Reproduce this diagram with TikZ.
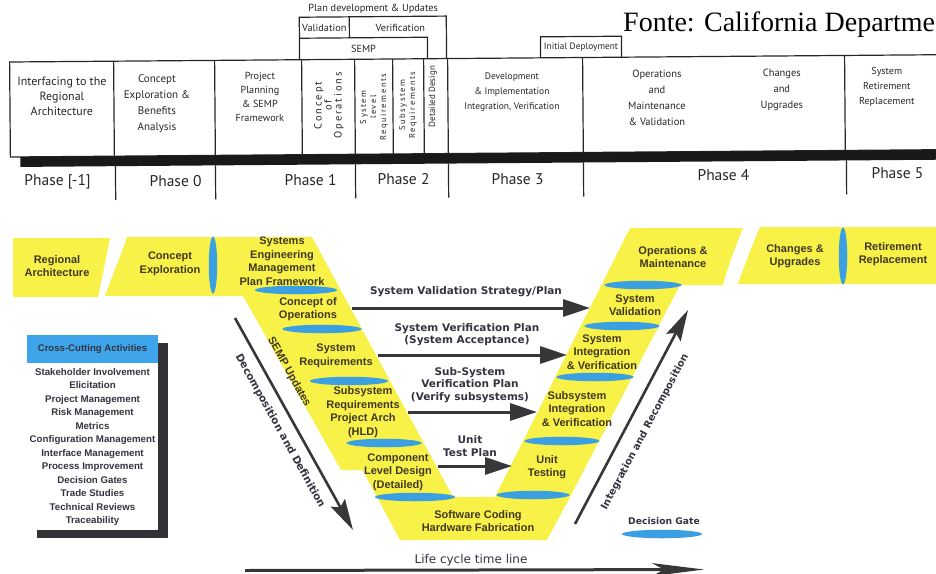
\documentclass[tikz,border=0pt]{standalone}
\usepackage{fontspec}
\setmainfont{Liberation Serif}
\newfontfamily\hdrfont{PT Sans}
\newfontfamily\hdrspaced[LetterSpace=18]{PT Sans}
\newfontfamily\vfont{Liberation Sans}
\newfontfamily\lblfont{DejaVu Sans}
\usetikzlibrary{arrows.meta,shapes.geometric}

\definecolor{vyellow}{RGB}{247,241,72}
\definecolor{gateblue}{RGB}{58,160,226}
\definecolor{boxtxt}{RGB}{66,56,32}
\definecolor{lbltxt}{RGB}{52,52,64}
\definecolor{arrowgray}{RGB}{55,55,58}
\definecolor{hdrgray}{RGB}{38,38,38}
\definecolor{legendblue}{RGB}{62,165,235}
\definecolor{shadowgray}{RGB}{50,50,55}

\begin{document}
\begin{tikzpicture}[x=1pt,y=-1pt,
  hdrline/.style={draw=hdrgray,line width=1.2pt},
  hdrtxt/.style={align=center,inner sep=0pt,text=hdrgray},
  phaselbl/.style={inner sep=0pt,text=hdrgray,font=\hdrfont\fontsize{15.5}{18}\selectfont},
  vtxt/.style={align=center,inner sep=0pt,text=boxtxt,font=\vfont\bfseries\fontsize{11}{13.5}\selectfont},
  lbl/.style={align=center,inner sep=0pt,text=lbltxt,font=\lblfont\bfseries\fontsize{10.5}{12.5}\selectfont},
  gateh/.style={ellipse,fill=gateblue,inner sep=0pt,minimum height=8.5pt,minimum width=#1},
  gatev/.style={ellipse,fill=gateblue,inner sep=0pt,minimum width=8.5pt,minimum height=#1},
  planarrow/.style={draw=arrowgray,line width=3pt,-{Triangle[length=27pt,width=17pt]}},
  diagarrow/.style={draw=arrowgray,line width=2.6pt,-{Stealth[length=31pt,width=16pt,inset=5pt]}},
  timearrow/.style={draw=arrowgray,line width=3pt,-{Stealth[length=52pt,width=13pt,inset=12pt]}}
]
\useasboundingbox (0,0) rectangle (936,573);
\clip (0,0) rectangle (936,573);

% ---------------- source note ----------------
\node[anchor=base west,inner sep=0pt,font=\fontsize{28}{32}\selectfont] (fonte) at (623,31) {Fonte: California Departme};

% ---------------- phase table ----------------
\begin{scope}[rotate around={0.45:(10,110)}]
  \draw[hdrline] (10,62) rectangle (950,157);
  \fill[black!90] (20,157) rectangle (950,167);
  \foreach \x in {114,215,302,355,393,424,448,583,845}
    \draw[hdrline] (\x,62) -- (\x,157);
  \foreach \x in {115,215,355,448,583,846}
    \draw[hdrline] (\x,167) -- (\x,201);
  % plan development boxes
  \draw[hdrline] (300,62) -- (300,19.5) -- (447,19.5) -- (447,62);
  \draw[hdrline] (350,19.5) -- (350,40.5);
  \draw[hdrline] (300,40.5) -- (428,40.5) -- (428,62);
  \draw[hdrline] (541,62) -- (541,41) -- (622,41) -- (622,62);

  \node[hdrtxt,font=\hdrfont\fontsize{10.3}{12}\selectfont] (hplan) at (374,12) {Plan development \& Updates};
  \node[hdrtxt,font=\hdrfont\fontsize{10.3}{12}\selectfont] (hval) at (325,30.5) {Validation};
  \node[hdrtxt,font=\hdrfont\fontsize{10.3}{12}\selectfont] (hver) at (401,30.5) {Verification};
  \node[hdrtxt,font=\hdrfont\fontsize{10.3}{12}\selectfont] (hsemp) at (364,51.5) {SEMP};
  \node[hdrtxt,font=\hdrfont\fontsize{9.3}{11}\selectfont] (hinit) at (581.5,51.5) {Initial Deployment};

  \node[hdrtxt,font=\hdrfont\fontsize{12}{15}\selectfont] (hreg) at (62,97) {Interfacing to the\\Regional\\Architecture};
  \node[hdrtxt,font=\hdrfont\fontsize{11}{16}\selectfont] (hcon) at (157,105) {Concept\\Exploration \&\\Benefits\\Analysis};
  \node[hdrtxt,font=\hdrfont\fontsize{10.2}{14}\selectfont] (hproj) at (260,99) {Project\\Planning\\\& SEMP\\Framework};
  \node[hdrtxt,rotate=90,font=\hdrspaced\fontsize{10.5}{10}\selectfont] (hconops) at (329,108) {Concept\\of\\Operations};
  \node[hdrtxt,rotate=90,font=\hdrspaced\fontsize{8.5}{10}\selectfont] (hsyslev) at (374,110) {System\\level\\Requirements};
  \node[hdrtxt,rotate=90,font=\hdrspaced\fontsize{8.5}{10}\selectfont] (hsubreq) at (408,108) {Subsystem\\Requirements};
  \node[hdrtxt,rotate=90,font=\hdrfont\fontsize{9}{10}\selectfont] (hdet) at (433,100) {Detailed Design};
  \node[hdrtxt,font=\hdrfont\fontsize{9.5}{15}\selectfont] (hdev) at (512,96) {Development\\\& Implementation\\Integration, Verification};
  \node[hdrtxt,font=\hdrfont\fontsize{10.5}{16}\selectfont] (hops) at (657,103) {Operations\\and\\Maintenance\\\& Validation};
  \node[hdrtxt,font=\hdrfont\fontsize{10.5}{16}\selectfont] (hchg) at (782,96) {Changes\\and\\Upgrades};
  \node[hdrtxt,font=\hdrfont\fontsize{10}{15}\selectfont] (hret) at (887,94) {System\\Retirement\\Replacement};

  \node[phaselbl] (p0) at (57,182) {Phase [-1]};
  \node[phaselbl] (p1) at (175,182) {Phase 0};
  \node[phaselbl] (p2) at (310,182) {Phase 1};
  \node[phaselbl] (p3) at (403,182) {Phase 2};
  \node[phaselbl] (p4) at (517,183) {Phase 3};
  \node[phaselbl] (p5) at (723,181) {Phase 4};
  \node[phaselbl] (p6) at (897,180) {Phase 5};
\end{scope}

% ---------------- V model band ----------------
\fill[vyellow] (13,238) -- (110,238) .. controls (106,258) and (102,278) .. (98,297) -- (13,297) -- cycle;
\fill[vyellow] (127,237) -- (312,237) -- (453,497) -- (495,497) -- (630,228) -- (743,228)
  .. controls (736,245) and (728,266) .. (723,285) -- (680,285) -- (570,497) -- (547,540)
  -- (400,540) -- (377,497) -- (362.5,470) -- (341,470) -- (243,296) -- (105,296)
  .. controls (112,276) and (120,258) .. (127,237) -- cycle;
\fill[vyellow] (760,227) .. controls (752,246) and (744,266) .. (738,284) -- (950,284) -- (950,227) -- cycle;

% decision gates
\node[gatev=57pt] (gv1) at (213,265) {};
\node[gatev=57pt] (gv2) at (843,256) {};
\node[gateh=82pt] (g1) at (296,290) {};
\node[gateh=79pt] (g2) at (322,329) {};
\node[gateh=78pt] (g3) at (349,381) {};
\node[gateh=75pt] (g4) at (384,443) {};
\node[gateh=80pt] (g5) at (415,497) {};
\node[gateh=73pt] (g6) at (533,495) {};
\node[gateh=75pt] (g7) at (562,441) {};
\node[gateh=77pt] (g8) at (595,377) {};
\node[gateh=75pt] (g9) at (622,326) {};
\node[gateh=77pt] (g10) at (643,285) {};

% stage texts
\node[vtxt] (tRegional) at (57,266) {Regional\\Architecture};
\node[vtxt] (tConcept) at (170,264) {Concept\\Exploration};
\node[vtxt] (tSEMP) at (282,261) {Systems\\Engineering\\Management\\Plan Framework};
\node[vtxt] (tConOps) at (308,309) {Concept of\\Operations};
\node[vtxt] (tSysReq) at (336,356) {System\\Requirements};
\node[vtxt] (tSubReq) at (363,412) {Subsystem\\Requirements\\Project Arch\\(HLD)};
\node[vtxt] (tComp) at (398,472) {Component\\Level Design\\(Detailed)};
\node[vtxt] (tCode) at (478,521) {Software Coding\\Hardware Fabrication};
\node[vtxt] (tUnit) at (547,467) {Unit\\Testing};
\node[vtxt] (tSubInt) at (577,409) {Subsystem\\Integration\\\& Verification};
\node[vtxt] (tSysInt) at (602,352) {System\\Integration\\\& Verification};
\node[vtxt] (tSysVal) at (635,305) {System\\Validation};
\node[vtxt] (tOps) at (673,257) {Operations \&\\Maintenance};
\node[vtxt] (tChanges) at (795,256) {Changes \&\\Upgrades};
\node[vtxt] (tRetire) at (893,254) {Retirement\\Replacement};
\node[vtxt,rotate=-61] (tSEMPup) at (289,372) {SEMP Updates};

% verification / validation plans
\coordinate (valS) at (352,308);  \coordinate (valE) at (590,308);
\coordinate (verS) at (378,355);  \coordinate (verE) at (567,355);
\coordinate (subS) at (408,412);  \coordinate (subE) at (537,412);
\coordinate (unitS) at (438,466); \coordinate (unitE) at (512,466);
\draw[planarrow] (valS) -- (valE);
\draw[planarrow] (verS) -- (verE);
\draw[planarrow] (subS) -- (subE);
\draw[planarrow] (unitS) -- (unitE);
\node[lbl] (lVal) at (466,292) {System Validation Strategy/Plan};
\node[lbl] (lVer) at (467,334.5) {System Verification Plan\\(System Acceptance)};
\node[lbl] (lSub) at (470,385) {Sub-System\\Verification Plan\\(Verify subsystems)};
\node[lbl] (lUnit) at (470,446) {Unit\\Test Plan};

% decomposition / integration
\coordinate (decS) at (235,318); \coordinate (decE) at (353,530);
\coordinate (intS) at (575,524); \coordinate (intE) at (688,310);
\draw[diagarrow] (decS) -- (decE);
\draw[diagarrow] (intS) -- (intE);
\node[lbl,rotate=-61,font=\lblfont\bfseries\fontsize{10.4}{12}\selectfont] (lDec) at (280,431) {Decomposition and Definition};
\node[lbl,rotate=62,font=\lblfont\bfseries\fontsize{10}{12}\selectfont] (lInt) at (645,432) {Integration and Recomposition};

% time line
\coordinate (lifeS) at (245,570.5); \coordinate (lifeE) at (704,569.5);
\draw[timearrow] (lifeS) -- (lifeE);
\node[lbl,font=\lblfont\fontsize{12}{14}\selectfont] (lLife) at (471,560) {Life cycle time line};

% legend: decision gate
\node[lbl,font=\lblfont\bfseries\fontsize{9.2}{11}\selectfont] (lGate) at (664,521) {Decision Gate};
\node[gateh=80pt] (gLegend) at (662,534) {};

% cross-cutting activities panel
\fill[shadowgray] (37,343) rectangle (168,538);
\fill[white] (27,335) rectangle (158,530);
\fill[legendblue] (27,335) rectangle (158,363);
\node[inner sep=0pt,text=lbltxt,font=\vfont\bfseries\fontsize{9.6}{11}\selectfont] (ccHead) at (92.5,349) {Cross-Cutting Activities};
\node[align=center,inner sep=0pt,text=lbltxt,font=\vfont\bfseries\fontsize{9.7}{13.45}\selectfont] (ccBody) at (92.5,447) {Stakeholder Involvement\\Elicitation\\Project Management\\Risk Management\\Metrics\\Configuration Management\\Interface Management\\Process Improvement\\Decision Gates\\Trade Studies\\Technical Reviews\\Traceability};
\end{tikzpicture}
\end{document}
